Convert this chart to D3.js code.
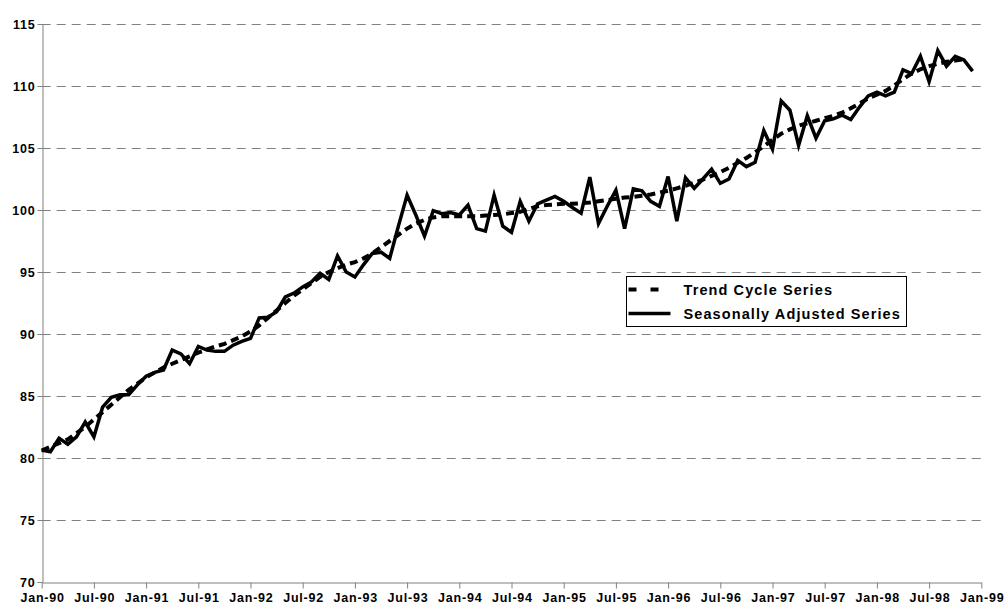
<!DOCTYPE html>
<html>
<head>
<meta charset="utf-8">
<script src="https://cdn.jsdelivr.net/npm/d3@7"></script>
<style>
  body { margin: 0; background: #fff; }
  svg { display: block; font-family: "Liberation Sans", Arial, sans-serif; }
</style>
</head>
<body>
<svg id="chart" width="1004" height="606"></svg>
<script>
// monthly values, Jan-90 .. Dec-98
const seasAdj = [
  80.65, 80.5, 81.6, 81.1, 81.7, 82.9, 81.7, 84.1, 84.9, 85.1, 85.1, 85.9,
  86.6, 86.9, 87.1, 88.7, 88.4, 87.6, 89.0, 88.7, 88.6, 88.6, 89.1, 89.4,
  89.65, 91.3, 91.35, 91.8, 93.0, 93.3, 93.8, 94.2, 94.9, 94.4, 96.3, 95.0,
  94.6, 95.6, 96.5, 96.6, 96.1, 98.7, 101.2, 99.6, 97.9, 99.95, 99.7, 99.8,
  99.6, 100.4, 98.5, 98.3, 101.2, 98.7, 98.2, 100.7, 99.1, 100.5, 100.8, 101.1,
  100.7, 100.2, 99.75, 102.65, 98.9, 100.3, 101.6, 98.5, 101.7, 101.55, 100.7, 100.3,
  102.7, 99.1, 102.6, 101.75, 102.5, 103.3, 102.15, 102.5, 104.0, 103.5, 103.85, 106.4,
  104.9, 108.8, 108.05, 105.2, 107.6, 105.8, 107.2, 107.35, 107.65, 107.3, 108.3, 109.2,
  109.5, 109.2, 109.5, 111.3, 111.0, 112.4, 110.35, 112.85, 111.6, 112.4, 112.1, 111.2
];
const trend = [
  80.6, 80.9, 81.2, 81.5, 82.0, 82.5, 83.1, 83.7, 84.3, 84.9, 85.5, 86.0,
  86.5, 86.9, 87.3, 87.6, 87.9, 88.2, 88.5, 88.75, 89.0, 89.2, 89.5, 89.8,
  90.2, 90.7, 91.3, 91.9, 92.5, 93.1, 93.6, 94.1, 94.6, 95.0, 95.3, 95.6,
  95.8, 96.1, 96.5, 97.0, 97.5, 98.0, 98.5, 98.9, 99.2, 99.4, 99.5, 99.5,
  99.5, 99.5, 99.5, 99.55, 99.6, 99.65, 99.75, 99.85, 100.1, 100.3, 100.4, 100.45,
  100.5, 100.5, 100.55, 100.6, 100.7, 100.8, 100.9, 101.0, 101.05, 101.15, 101.25, 101.4,
  101.55, 101.75, 101.95, 102.2, 102.45, 102.75, 103.05, 103.4, 103.8, 104.2, 104.65, 105.15,
  105.65, 106.15, 106.5, 106.8, 107.0, 107.2, 107.4, 107.6, 107.85, 108.2, 108.6, 109.0,
  109.3, 109.6, 110.05, 110.55, 111.0, 111.35, 111.6, 111.8, 111.95, 112.05, 112.15
];
const tickLabels = ["Jan-90","Jul-90","Jan-91","Jul-91","Jan-92","Jul-92","Jan-93","Jul-93",
  "Jan-94","Jul-94","Jan-95","Jul-95","Jan-96","Jul-96","Jan-97","Jul-97","Jan-98","Jul-98","Jan-99"];
const yTicks = [70, 75, 80, 85, 90, 95, 100, 105, 110, 115];
const seriesNames = ["Trend Cycle Series", "Seasonally Adjusted Series"];

const svg = d3.select("#chart");
const x = d3.scaleLinear().domain([0, 108]).range([41.7, 981.3]);
const y = d3.scaleLinear().domain([70, 115]).range([582, 24]);

// grid
svg.append("g")
  .selectAll("line")
  .data(yTicks.slice(1))
  .join("line")
  .attr("x1", x(0)).attr("x2", x(108))
  .attr("y1", d => Math.round(y(d)) + 0.5).attr("y2", d => Math.round(y(d)) + 0.5)
  .attr("stroke", "#808080")
  .attr("stroke-width", 1)
  .attr("stroke-dasharray", "9,6");

// axes
const yAxis = svg.append("g")
  .attr("transform", `translate(${Math.round(x(0)) + 0.5},0)`)
  .call(d3.axisLeft(y).tickValues(yTicks).tickSize(5).tickSizeOuter(0));
const xAxis = svg.append("g")
  .attr("transform", `translate(0,${Math.round(y(70)) + 0.5})`)
  .call(d3.axisBottom(x).tickValues(d3.range(0, 109, 6)).tickSize(6).tickSizeOuter(0)
    .tickFormat((d, i) => tickLabels[i]));

[yAxis, xAxis].forEach(g => {
  g.select(".domain").attr("stroke", "#808080");
  g.selectAll(".tick line").attr("stroke", "#808080");
  g.selectAll("text")
    .attr("fill", "#000")
    .style("font-size", "12.5px")
    .style("font-weight", "bold")
    .style("letter-spacing", "0.8px")
    .style("font-family", "'Liberation Sans', Arial, sans-serif");
});
yAxis.selectAll("text").attr("x", -7);
xAxis.selectAll("text").attr("y", 11).attr("dx", "0.4px");

// series
const line = d3.line().x((d, i) => x(i)).y(d => y(d));

svg.append("path")
  .datum(trend)
  .attr("fill", "none")
  .attr("stroke", "#000")
  .attr("stroke-width", 4)
  .attr("stroke-dasharray", "8,5")
  .attr("d", line);

svg.append("path")
  .datum(seasAdj)
  .attr("fill", "none")
  .attr("stroke", "#000")
  .attr("stroke-width", 3.5)
  .attr("stroke-linejoin", "miter")
  .attr("d", line);

// legend
const lg = svg.append("g").attr("transform", "translate(626.5,276.5)");
lg.append("rect")
  .attr("width", 280).attr("height", 50)
  .attr("fill", "#fff").attr("stroke", "#000").attr("stroke-width", 1);

const items = lg.selectAll("g.item")
  .data(seriesNames)
  .join("g")
  .attr("class", "item")
  .attr("transform", (d, i) => `translate(0,${13 + i * 24})`);

items.append("line")
  .attr("x1", 2).attr("x2", 44)
  .attr("stroke", "#000")
  .attr("stroke-width", (d, i) => i === 0 ? 4 : 3.5)
  .attr("stroke-dasharray", (d, i) => i === 0 ? "8,14" : null);

items.append("text")
  .attr("x", 57).attr("dy", "0.36em")
  .style("font-size", "14.5px")
  .style("font-weight", "bold")
  .style("letter-spacing", "1.1px")
  .text(d => d);
</script>
</body>
</html>
